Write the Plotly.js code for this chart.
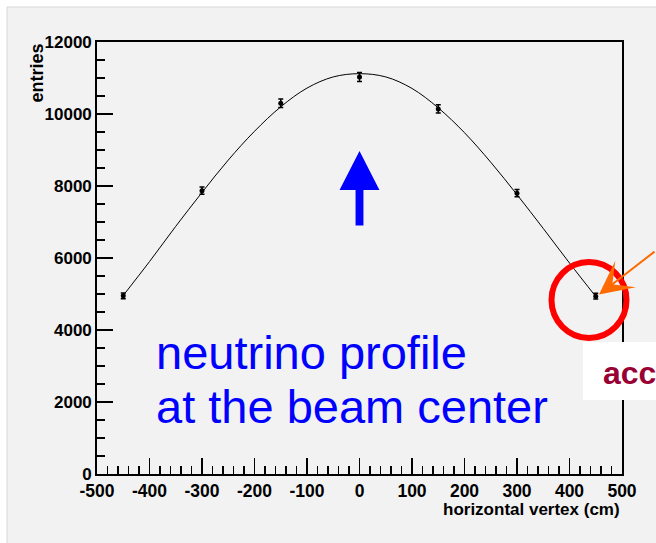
<!DOCTYPE html>
<html>
<head>
<meta charset="utf-8">
<script src="https://cdn.plot.ly/plotly-3.0.1.min.js"></script>
<style>html,body{margin:0;padding:0;background:#fff;}#chart{width:656px;height:543px;}</style>
</head>
<body>
<div id="chart"></div>
<script>
// measured points (horizontal vertex in cm, entries, error)
const vertexX = [-450, -300, -150, 0, 150, 300, 450];
const entries = [4950, 7870, 10300, 11030, 10140, 7800, 4940];
const entryErr = [80, 100, 120, 125, 115, 100, 80];

// fitted curve
const curveX = [-450, -400, -350, -300, -250, -200, -150, -100, -50, 0, 50, 100, 150, 200, 250, 300, 350, 400, 450];
const curveY = [4960, 5900, 6880, 7820, 8720, 9520, 10200, 10720, 11030, 11120, 11030, 10710, 10170, 9480, 8660, 7760, 6820, 5860, 4930];

// tick labels
const xTickVals = [-500, -400, -300, -200, -100, 0, 100, 200, 300, 400, 500];
const xTickText = ['-500', '-400', '-300', '-200', '-100', '0', '100', '200', '300', '400', '500'];
const yTickVals = [0, 2000, 4000, 6000, 8000, 10000, 12000];
const yTickText = ['0', '2000', '4000', '6000', '8000', '10000', '12000'];

const FONT = 'Liberation Sans, Arial, Helvetica, sans-serif';
const W = 656, H = 543, ML = 97, MR = 34, MT = 42, MB = 69;
const PW = W - ML - MR, PH = H - MT - MB;
const px = v => (v - ML) / PW;        // pixel x -> paper
const py = v => (H - MB - v) / PH;    // pixel y -> paper

const traces = [
  {
    x: curveX, y: curveY, type: 'scatter', mode: 'lines',
    line: {color: '#000', width: 1, shape: 'spline', smoothing: 1},
    hoverinfo: 'skip', showlegend: false
  },
  {
    x: vertexX, y: entries, type: 'scatter', mode: 'markers',
    marker: {color: '#000', size: 5},
    error_y: {type: 'data', array: entryErr, visible: true, color: '#000', thickness: 1.5, width: 2.5},
    showlegend: false
  }
];

const layout = {
  width: W, height: H,
  margin: {l: ML, r: MR, t: MT, b: MB, pad: 0},
  paper_bgcolor: '#ffffff',
  plot_bgcolor: '#f2f2f2',
  showlegend: false,
  font: {family: FONT, color: '#000'},
  xaxis: {
    range: [-500, 500], tickmode: 'array', tickvals: xTickVals, ticktext: xTickText,
    ticks: 'inside', ticklen: 16, tickwidth: 1.3, tickcolor: '#000',
    minor: {dtick: 20, ticks: 'inside', ticklen: 8, tickwidth: 1.3, tickcolor: '#000', showgrid: false},
    showgrid: false, zeroline: false, showline: true, linecolor: '#000', linewidth: 1.8, mirror: true,
    tickfont: {family: FONT, size: 17.5, weight: 'bold', color: '#000'}
  },
  yaxis: {
    range: [0, 12000], tickmode: 'array', tickvals: yTickVals, ticktext: yTickText,
    ticks: 'inside', ticklen: 16, tickwidth: 1.3, tickcolor: '#000',
    minor: {dtick: 500, ticks: 'inside', ticklen: 8, tickwidth: 1.3, tickcolor: '#000', showgrid: false},
    showgrid: false, zeroline: false, showline: true, linecolor: '#000', linewidth: 1.8, mirror: true,
    tickfont: {family: FONT, size: 17, weight: 'bold', color: '#000'}
  },
  shapes: [
    // canvas background with white strip at top/left
    {type: 'rect', xref: 'paper', yref: 'paper', layer: 'below',
     x0: px(7), x1: px(W + 5), y0: py(7), y1: py(H + 5),
     fillcolor: '#f2f2f2', line: {color: '#d6d6d6', width: 1}},
    // blue up arrow
    {type: 'path', xref: 'x', yref: 'y', layer: 'above',
     path: 'M -7.5,6900 L -7.5,7889 L -38,7889 L 0,8972 L 38,7889 L 7.5,7889 L 7.5,6900 Z',
     fillcolor: '#0000ff', line: {width: 0}},
    // red circle
    {type: 'circle', xref: 'paper', yref: 'paper', layer: 'above',
     x0: px(551.5), x1: px(626.5), y0: py(338), y1: py(262),
     line: {color: '#ff0000', width: 6}},
    // white box
    {type: 'rect', xref: 'paper', yref: 'paper', layer: 'above',
     x0: px(583), x1: px(W + 5), y0: py(400), y1: py(342),
     fillcolor: '#ffffff', line: {width: 0}}
  ],
  annotations: [
    {text: 'entries', xref: 'paper', yref: 'paper', x: px(36), y: 1, xanchor: 'center', yanchor: 'top',
     textangle: -90, showarrow: false, font: {family: FONT, size: 18, weight: 'bold', color: '#000'}},
    {text: 'horizontal vertex (cm)', xref: 'paper', yref: 'paper', x: px(622), y: py(509),
     xanchor: 'right', yanchor: 'middle', showarrow: false,
     font: {family: FONT, size: 17, weight: 'bold', color: '#000'}},
    {text: 'neutrino profile', xref: 'paper', yref: 'paper', x: px(154), y: py(352),
     xanchor: 'left', yanchor: 'middle', showarrow: false,
     font: {family: FONT, size: 47, color: '#0000ff'}},
    {text: 'at the beam center', xref: 'paper', yref: 'paper', x: px(154), y: py(406),
     xanchor: 'left', yanchor: 'middle', showarrow: false,
     font: {family: FONT, size: 47, color: '#0000ff'}},
    {text: 'acc', xref: 'paper', yref: 'paper', x: px(601), y: py(373),
     xanchor: 'left', yanchor: 'middle', showarrow: false,
     font: {family: FONT, size: 32, weight: 'bold', color: '#990033'}},
    {text: '', xref: 'paper', yref: 'paper', x: px(599), y: py(294.5),
     showarrow: true, arrowhead: 3, arrowsize: 2.8, arrowwidth: 2, arrowcolor: '#ff6a00',
     ax: 64, ay: -44, standoff: 0}
  ]
};

Plotly.newPlot('chart', traces, layout, {staticPlot: true, displayModeBar: false});
</script>
</body>
</html>
